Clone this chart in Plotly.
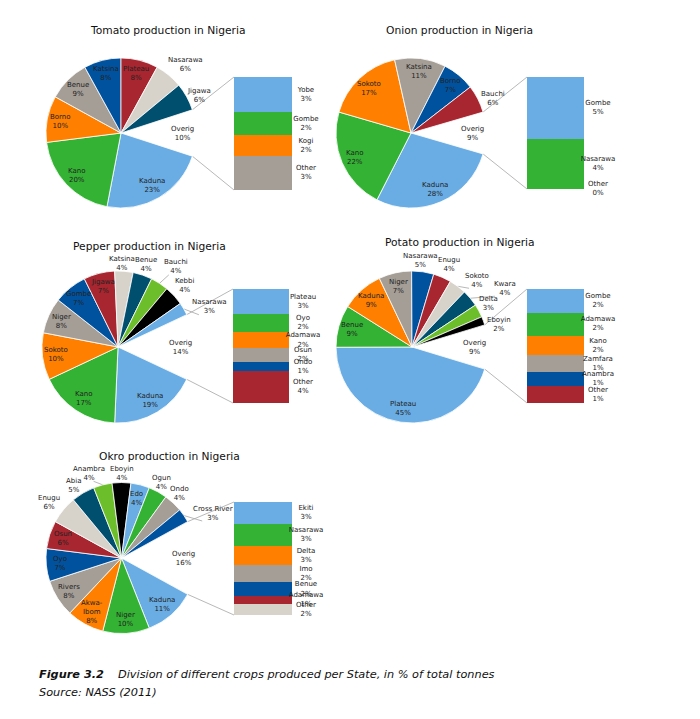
import math
import plotly.graph_objects as go

W, H = 700, 719
OFF = 8  # page offset of the plot inside the browser window
FONT = "DejaVu Sans"

# ---------------- data ----------------
tomato_states = ["Kaduna", "Kano", "Borno", "Benue", "Katsina", "Plateau", "Nasarawa", "Jigawa"]
tomato_values = [23, 20, 10, 9, 8, 8, 6, 6]
tomato_rest_states = ["Yobe", "Gombe", "Kogi", "Other"]
tomato_rest_values = [3.1, 2.0, 1.9, 3.0]

onion_states = ["Kaduna", "Kano", "Sokoto", "Katsina", "Borno", "Bauchi"]
onion_values = [28, 22, 17, 11, 7, 6]
onion_rest_states = ["Gombe", "Nasarawa", "Other"]
onion_rest_values = [5, 4, 0]

pepper_states = ["Kaduna", "Kano", "Sokoto", "Niger", "Gombe", "Jigawa", "Katsina",
                 "Benue", "Bauchi", "Kebbi", "Nasarawa"]
pepper_values = [18.7, 17.3, 10.0, 7.6, 7.1, 6.6, 3.9, 4.1, 3.8, 4.2, 2.7]
pepper_rest_states = ["Plateau", "Oyo", "Adamawa", "Osun", "Ondo", "Other"]
pepper_rest_values = [3.05, 2.25, 2.0, 1.65, 1.15, 3.9]

potato_states = ["Plateau", "Benue", "Kaduna", "Niger", "Nasarawa", "Enugu", "Sokoto",
                 "Kwara", "Delta", "Eboyin"]
potato_values = [45.3, 9, 9, 7, 4.7, 3.8, 3.7, 3.6, 2.8, 1.8]
potato_rest_states = ["Gombe", "Adamawa", "Kano", "Zamfara", "Anambra", "Other"]
potato_rest_values = [1.94, 1.91, 1.6, 1.38, 1.19, 1.38]

okro_states = ["Kaduna", "Niger", "Akwa-Ibom", "Rivers", "Oyo", "Osun", "Enugu", "Abia",
               "Anambra", "Eboyin", "Edo", "Ogun", "Ondo", "Cross River"]
okro_values = [11, 10, 8, 8, 7, 6, 6, 5, 4, 4, 4, 4, 4, 3]
okro_rest_states = ["Ekiti", "Nasarawa", "Delta", "Imo", "Benue", "Adamawa", "Other"]
okro_rest_values = [3.15, 3.06, 2.73, 2.45, 1.93, 1.13, 1.55]

# ---------------- style ----------------
LB, GR, OR, TP, DB = "#6AADE4", "#34B234", "#FF7F00", "#A59E97", "#00529F"
RD, LG, TL, LM, BK = "#A8262F", "#D7D3CB", "#004F6E", "#6CBE2B", "#000000"
CYCLE = [LB, GR, OR, TP, DB, RD, LG, TL, LM, BK]


def cyc(n):
    return [CYCLE[i % len(CYCLE)] for i in range(n)]


panels = [
    dict(title="Tomato production in Nigeria", title_xy=(168, 30), center=(121, 133), radius=75,
         bar=(234, 77, 292, 190), states=tomato_states, values=tomato_values,
         rest_states=tomato_rest_states, rest_values=tomato_rest_values,
         colors=cyc(len(tomato_states)),
         outside={"Nasarawa": (1.26, 3.5), "Jigawa": (1.16, 3)}, leaders=[]),
    dict(title="Onion production in Nigeria", title_xy=(459, 30), center=(411, 133), radius=75,
         bar=(527, 77, 584, 189), states=onion_states, values=onion_values,
         rest_states=onion_rest_states, rest_values=onion_rest_values,
         colors=cyc(len(onion_states)),
         outside={"Bauchi": (1.19, 4)}, leaders=[]),
    dict(title="Pepper production in Nigeria", title_xy=(149, 246), center=(118, 347), radius=76,
         bar=(233, 289, 289, 403), states=pepper_states, values=pepper_values,
         rest_states=pepper_rest_states, rest_values=pepper_rest_values,
         colors=cyc(len(pepper_states)),
         outside={"Katsina": (1.1, -1.5), "Benue": (1.15, 0), "Bauchi": (1.3, 2.7),
                  "Kebbi": (1.19, 0), "Nasarawa": (1.32, 6.4)},
         leaders=["Bauchi", "Nasarawa"]),
    dict(title="Potato production in Nigeria", title_xy=(460, 242), center=(412, 347), radius=76,
         bar=(527, 289, 584, 403), states=potato_states, values=potato_values,
         rest_states=potato_rest_states, rest_values=potato_rest_values,
         colors=cyc(len(potato_states)),
         outside={"Nasarawa": (1.14, -2.8), "Enugu": (1.19, 1), "Sokoto": (1.23, 7.5),
                  "Kwara": (1.45, 7.7), "Delta": (1.16, -1.4), "Eboyin": (1.18, 5.6)},
         leaders=["Sokoto", "Kwara"]),
    dict(title="Okro production in Nigeria", title_xy=(169, 456), center=(121.5, 558), radius=75.5,
         bar=(234, 502, 292, 615), states=okro_states, values=okro_values,
         rest_states=okro_rest_states, rest_values=okro_rest_values,
         colors=cyc(12) + [TP, DB],
         outside={"Enugu": (1.21, -2), "Abia": (1.16, -3), "Anambra": (1.2, -6.4),
                  "Eboyin": (1.12, 0), "Ogun": (1.13, -0.7), "Ondo": (1.15, -1),
                  "Cross River": (1.35, 8)},
         leaders=["Anambra", "Cross River"]),
]

LABEL_FONT = dict(size=7, color="#222222", family=FONT)
LABEL_GAP = 14  # px from the right edge of a bar to the centre of its labels


def dom_x(a, b):
    return [(a - OFF) / W, (b - OFF) / W]


def dom_y(a, b):
    return [1 - (b - OFF) / H, 1 - (a - OFF) / H]


fig = go.Figure()
annotations = []
conn_x, conn_y = [], []
lead_x, lead_y = [], []
layout_axes = {}

for i, p in enumerate(panels):
    cx, cy = p["center"]
    r = p["radius"]
    states, values = p["states"], p["values"]
    rest_states, rest_values = p["rest_states"], p["rest_values"]
    overig = sum(rest_values)
    total = overig + sum(values)
    rot = 90 - overig / total * 180

    fig.add_trace(go.Pie(
        values=[overig] + values, labels=["Overig"] + states, sort=False,
        direction="clockwise", rotation=rot,
        marker=dict(colors=["rgba(255,255,255,0)"] + p["colors"],
                    line=dict(color="white", width=0.8)),
        textinfo="none", hoverinfo="label+value",
        domain=dict(x=dom_x(cx - r, cx + r), y=dom_y(cy - r, cy + r)),
        showlegend=False))

    # slice labels
    cum = 0
    for name, v in zip(["Overig"] + states, [overig] + values):
        mid = rot + (cum + v / 2) / total * 360
        cum += v
        k, dth = p["outside"].get(name, (0.82, 0))
        a = math.radians(mid + dth)
        lx = cx + k * r * math.sin(a)
        ly = cy - k * r * math.cos(a)
        annotations.append(dict(
            x=lx, y=ly, xref="x", yref="y", showarrow=False,
            text=f"{name.replace('-', '-<br>')}<br>{v:.0f}%",
            font=LABEL_FONT, xanchor="center", yanchor="middle"))
        if name in p["leaders"]:
            am = math.radians(mid)
            lead_x += [cx + 1.0 * r * math.sin(am), lx - 12 * math.sin(a), None]
            lead_y += [cy - 1.0 * r * math.cos(am), ly + 8, None]

    # connector lines from the gap to the bar
    bx0, by0, bx1, by1 = p["bar"]
    bw = bx1 - bx0
    a0 = math.radians(rot)
    a1 = math.radians(rot + overig / total * 360)
    conn_x += [cx + r * math.sin(a0), bx0, None, cx + r * math.sin(a1), bx0, None]
    conn_y += [cy - r * math.cos(a0), by0, None, cy - r * math.cos(a1), by1, None]

    # bar of pie
    n = i + 2
    xa, ya = f"x{n}", f"y{n}"
    bcols = cyc(len(rest_states))
    mids = []
    c = 0
    for name, v, col in zip(rest_states, rest_values, bcols):
        fig.add_trace(go.Bar(x=[0.5], y=[v], width=[1], marker=dict(color=col, line=dict(width=0)),
                             xaxis=xa, yaxis=ya, showlegend=False, name=name,
                             hoverinfo="name+y"))
        mids.append(c + v / 2)
        c += v
    xr = 1 + 2 * LABEL_GAP / bw
    fig.add_trace(go.Scatter(
        x=[1 + LABEL_GAP / bw] * len(rest_states), y=mids, mode="text",
        text=[f"{s}<br>{v:.0f}%" for s, v in zip(rest_states, rest_values)],
        textfont=LABEL_FONT, xaxis=xa, yaxis=ya, showlegend=False,
        cliponaxis=False, hoverinfo="skip"))
    layout_axes[f"xaxis{n}"] = dict(domain=dom_x(bx0, bx0 + bw * xr), range=[0, xr],
                                    visible=False, anchor=ya, fixedrange=True)
    layout_axes[f"yaxis{n}"] = dict(domain=dom_y(by0, by1), range=[overig, 0], visible=False,
                                    anchor=xa, fixedrange=True)

    annotations.append(dict(x=p["title_xy"][0], y=p["title_xy"][1], xref="x", yref="y",
                            text=p["title"], showarrow=False, xanchor="center", yanchor="middle",
                            font=dict(size=10.7, color="#111111", family=FONT)))

fig.add_trace(go.Scatter(x=conn_x, y=conn_y, mode="lines", line=dict(color="#A6A6A6", width=0.8),
                         showlegend=False, hoverinfo="skip", xaxis="x", yaxis="y"))
fig.add_trace(go.Scatter(x=lead_x, y=lead_y, mode="lines", line=dict(color="#A6A6A6", width=0.8),
                         showlegend=False, hoverinfo="skip", xaxis="x", yaxis="y"))

CAP_FONT = dict(size=11.3, color="#111111", family=FONT)
annotations += [
    dict(x=37, y=674, xref="x", yref="y", text="<b><i>Figure 3.2</i></b>", showarrow=False,
         xanchor="left", yanchor="middle", font=CAP_FONT),
    dict(x=116, y=674, xref="x", yref="y",
         text="<i>Division of different crops produced per State, in % of total tonnes</i>",
         showarrow=False, xanchor="left", yanchor="middle", font=CAP_FONT),
    dict(x=37, y=692, xref="x", yref="y", text="<i>Source: NASS (2011)</i>", showarrow=False,
         xanchor="left", yanchor="middle", font=CAP_FONT),
]

fig.update_layout(
    width=W, height=H, margin=dict(l=0, r=0, t=0, b=0),
    paper_bgcolor="white", plot_bgcolor="rgba(0,0,0,0)",
    font=dict(family=FONT, size=7, color="#222222"),
    barmode="stack", showlegend=False,
    xaxis=dict(domain=[0, 1], range=[OFF, W + OFF], visible=False, fixedrange=True),
    yaxis=dict(domain=[0, 1], range=[H + OFF, OFF], visible=False, fixedrange=True),
    annotations=annotations,
    **layout_axes,
)

fig.write_html("out.html")
